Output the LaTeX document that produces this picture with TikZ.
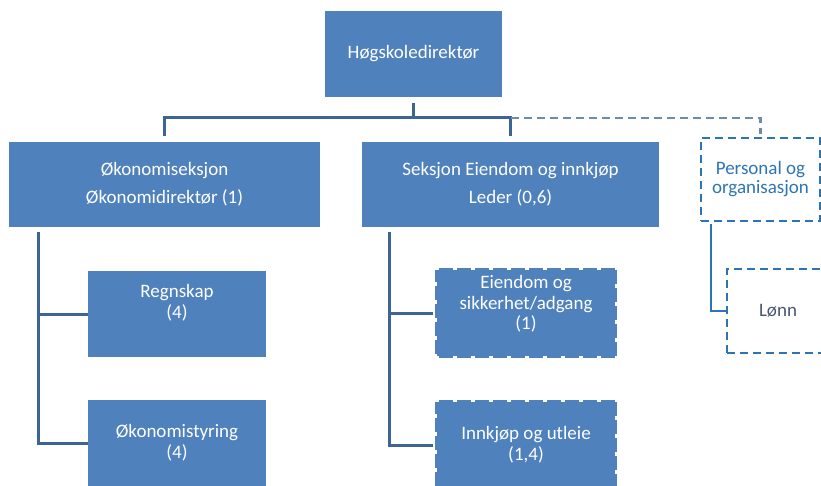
\documentclass[tikz,border=0pt]{standalone}
\usepackage{fontspec}
\setmainfont{Carlito}
\definecolor{boksblaa}{HTML}{4F81BD}
\definecolor{linjeblaa}{HTML}{3C6494}
\definecolor{persblaa}{HTML}{2E74B5}
\definecolor{lonngraa}{HTML}{4A5670}

\begin{document}
\begin{tikzpicture}[x=1pt, y=-1pt,
    boks/.style={fill=boksblaa, text=white, align=center, inner sep=0pt, font=\fontsize{19}{21}\selectfont},
    hoved/.style={boks, font=\fontsize{19}{28}\selectfont},
    stiplet/.style={boks, draw=white, line width=4pt, dash pattern=on 4pt off 14pt},
    persboks/.style={draw=persblaa, line width=2.5pt, dash pattern=on 8pt off 5pt, align=center, inner sep=0pt, font=\fontsize{19}{19}\selectfont},
    strek/.style={draw=linjeblaa, line width=3pt},
    perslinje/.style={draw=persblaa, line width=2.5pt}]

        % Ramme
        \useasboundingbox (0,0) rectangle (821,486);
        \clip (0,0) rectangle (821,486);

        % Ledelse og seksjoner
        \node[boks, minimum width=177pt, minimum height=86pt] (dir) at (413.5,54) {Høgskoledirektør};
        \node[hoved, minimum width=311pt, minimum height=85pt] (oko) at (164.5,184.5) {Økonomiseksjon\\Økonomidirektør (1)};
        \node[hoved, minimum width=297pt, minimum height=85pt] (eien) at (510.5,184.5) {Seksjon Eiendom og innkjøp\\Leder (0,6)};
        \node[persboks, text=persblaa, minimum width=119pt, minimum height=83pt] (pers) at (760.5,179.5) {Personal og\\organisasjon};

        % Enheter
        \node[boks, minimum width=178pt, minimum height=86pt, text depth=25pt] (regn) at (177,314) {Regnskap\\(4)};
        \node[boks, minimum width=178pt, minimum height=86pt] (styr) at (177,443) {Økonomistyring\\(4)};
        \node[stiplet, minimum width=182pt, minimum height=90pt, text depth=21pt, font=\fontsize{19}{20.5}\selectfont] (eiadg) at (526,313) {Eiendom og\\sikkerhet/adgang\\(1)};
        \node[stiplet, minimum width=182pt, minimum height=90pt] (innk) at (526,445) {Innkjøp og utleie\\(1,4)};
        \node[persboks, text=lonngraa, minimum width=102pt, minimum height=84pt] (lonn) at (778,311) {Lønn};

        % Linjer fra direktør
        \coordinate (buss) at (0,118);
        \draw[strek, shorten <=6pt] (dir.south) -- (dir.south |- buss);
        \draw[strek, shorten <=6pt, shorten >=6pt] (oko.north) |- (buss -| eien.north) -- (eien.north);
        \draw[draw=linjeblaa!75!white, line width=2.5pt, dash pattern=on 8pt off 5pt, shorten >=3pt] (buss -| eien.north) -| (pers.north);

        % Stammer
        \coordinate (okostamme) at ([xshift=30pt]oko.south west);
        \coordinate (eienstamme) at ([xshift=28pt]eien.south west);
        \coordinate (persstamme) at ([xshift=11pt]pers.south west);
        \draw[strek, shorten <=5pt] (okostamme) |- (styr.west);
        \draw[strek] (regn.west) -- (regn.west -| okostamme);
        \draw[strek, shorten <=5pt] (eienstamme) |- (innk.west);
        \draw[strek] (eiadg.west) -- (eiadg.west -| eienstamme);
        \draw[perslinje, shorten <=2pt] (persstamme) |- (lonn.west);

    \end{tikzpicture}
\end{document}
